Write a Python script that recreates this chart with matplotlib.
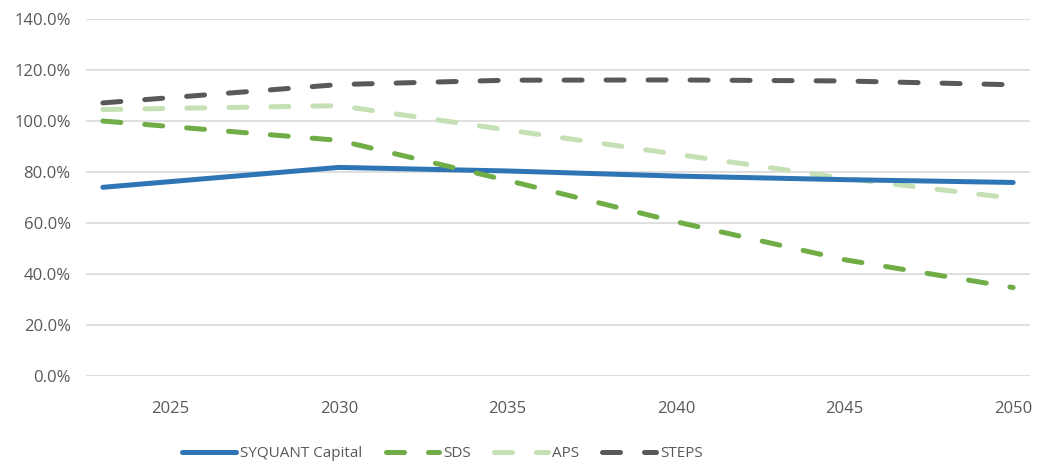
import matplotlib
matplotlib.use("Agg")
import matplotlib.pyplot as plt
from matplotlib.ticker import FuncFormatter

plt.rcParams['font.family'] = ['Open Sans', 'DejaVu Sans']

# data (percent)
years = [2023, 2030, 2035, 2040, 2045, 2050]
syquant = [74.0, 81.8, 80.4, 78.4, 77.0, 75.9]
sds = [100.0, 92.4, 76.7, 60.5, 45.6, 34.7]
aps = [104.5, 106.0, 96.5, 87.0, 77.5, 69.7]
steps = [107.1, 114.3, 116.0, 116.1, 115.7, 114.2]
xticks = [2025, 2030, 2035, 2040, 2045, 2050]

TXT = '#595959'

fig = plt.figure(figsize=(10.37, 4.63), dpi=100)
ax = fig.add_axes([86/1037, 87/463, 944/1037, 357/463])

lw = 3.6
dash = (3.6, 4.8)
ax.plot(years, syquant, color='#2E75B6', lw=lw, solid_capstyle='round',
        solid_joinstyle='round', label='SYQUANT Capital', zorder=3)
ax.plot(years, sds, color='#70AD47', lw=lw, dashes=dash, dash_capstyle='round',
        label='SDS', zorder=4)
ax.plot(years, aps, color='#C5E0B4', lw=lw, dashes=dash, dash_capstyle='round',
        label='APS', zorder=2)
ax.plot(years, steps, color='#595959', lw=lw, dashes=dash, dash_capstyle='round',
        label='STEPS', zorder=2)

ax.set_xlim(2022.5, 2050.5)
ax.set_ylim(0, 140)
ax.set_yticks(range(0, 141, 20))
ax.yaxis.set_major_formatter(FuncFormatter(lambda v, p: f'{v:.1f}%'))
ax.set_xticks(xticks)
ax.grid(axis='y', color='#d9d9d9', lw=1.2)
ax.set_axisbelow(True)
for s in ax.spines.values():
    s.set_visible(False)
ax.tick_params(length=0, labelsize=12, colors=TXT)
ax.tick_params(axis='x', pad=18)
ax.tick_params(axis='y', pad=11)

# legend sits left of centre in the original
leg = ax.legend(loc='center', bbox_to_anchor=(0.378, -0.218), ncol=4, frameon=False,
                fontsize=11, handlelength=3.5, columnspacing=1.5, handletextpad=0.3,
                labelcolor=TXT)

fig.savefig('out.png', dpi=100)
